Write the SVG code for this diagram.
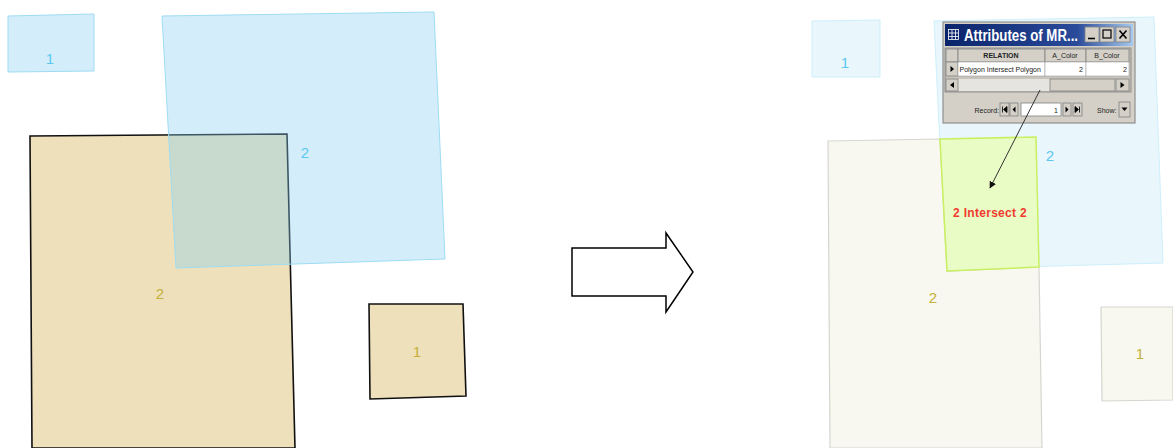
<svg xmlns="http://www.w3.org/2000/svg" width="1173" height="448" viewBox="0 0 1173 448">
<defs>
<linearGradient id="tb" x1="0" y1="0" x2="1" y2="0">
<stop offset="0" stop-color="#0A246A"/>
<stop offset="0.7" stop-color="#2A4A9A"/>
<stop offset="1" stop-color="#A6CAF0"/>
</linearGradient>
<marker id="ah" viewBox="0 0 10 10" refX="9" refY="5" markerWidth="7" markerHeight="7" orient="auto">
<path d="M0,0 L10,5 L0,10 z" fill="#111"/>
</marker>
<style>
.lbl{font-family:"Liberation Sans",Arial,sans-serif;font-size:15px;text-anchor:middle}
.blue{fill:#5CC8EE}
.tan{fill:#C4B03A}
.tanA{fill:#EEE0BA;stroke:#111;stroke-width:1.6}
.blueA{fill:#88D1F1;fill-opacity:0.37;stroke:#9EDCF2;stroke-width:1}
.blueB{fill:#E9F6FC;stroke:#CDEFFB;stroke-width:1}
.tanB{fill:#F8F7F0;stroke:#D6D6D0;stroke-width:1.2}
.sm{font-family:"Liberation Sans",Arial,sans-serif;font-size:7px;fill:#222}
.btn{fill:#D4D0C8;stroke:#808080;stroke-width:0.8}
.wht{fill:#FFFFFF;stroke:#A0A0A0;stroke-width:0.6}
</style>
</defs>
<rect width="1173" height="448" fill="#FFFFFF"/>

<!-- Left panel -->
<g id="left-tan-2">
<polygon class="tanA" points="30,136 287,134 295,448 32,448"/>
<text class="lbl tan" x="160" y="299">2</text>
</g>
<g id="left-tan-1">
<polygon class="tanA" points="369,304 463,304 466,396 370,399"/>
<text class="lbl tan" x="417" y="357">1</text>
</g>
<g id="left-blue-1">
<polygon class="blueA" points="8,16 94,14 94,71 8,72"/>
<text class="lbl blue" x="50" y="64">1</text>
</g>
<g id="left-blue-2">
<polygon class="blueA" points="162,16 434,12 445,259 176,268"/>
<text class="lbl blue" x="305" y="158">2</text>
</g>

<!-- Big hollow arrow -->
<g id="transform-arrow">
<polygon points="572,248 666,248 666,233 693,272 666,312 666,296 572,296" fill="#FFFFFF" stroke="#000" stroke-width="1.5" stroke-linejoin="miter"/>
</g>

<!-- Right panel -->
<g id="right-blue-1">
<polygon class="blueB" points="812,21 880,20 880,77 812,77"/>
<text class="lbl blue" x="845" y="68">1</text>
</g>
<g id="right-blue-2">
<polygon class="blueB" points="934,21 1154,17 1163,263 946,269"/>
<text class="lbl blue" x="1050" y="161">2</text>
</g>
<g id="right-tan-2">
<polygon class="tanB" points="828,141 940,139 947,271 1039,267 1042,448 830,448"/>
<text class="lbl tan" x="933" y="303">2</text>
</g>
<g id="right-tan-1">
<polygon class="tanB" points="1101,307 1173,307 1173,400 1102,401"/>
<text class="lbl tan" x="1140" y="359">1</text>
</g>
<g id="right-intersect">
<polygon points="940,139 1036,137 1039,267 947,271" fill="#E9FCC6" stroke="#C8F060" stroke-width="1.5"/>
<text x="990" y="217" font-family="'Liberation Sans',Arial,sans-serif" font-size="12" font-weight="bold" fill="#F03A2E" text-anchor="middle" letter-spacing="0.3">2 Intersect 2</text>
</g>

<!-- Attribute window -->
<g id="attributes-window">
<rect x="943" y="22" width="192" height="101" fill="#D4D0C8" stroke="#909090" stroke-width="1.2"/>
<rect x="945" y="24" width="188" height="22" fill="url(#tb)"/>
<g fill="none" stroke="#FFFFFF" stroke-width="0.8">
<rect x="948.5" y="29.5" width="10" height="10"/>
<line x1="948.5" y1="33" x2="958.5" y2="33"/>
<line x1="948.5" y1="36.5" x2="958.5" y2="36.5"/>
<line x1="952" y1="29.5" x2="952" y2="39.5"/>
<line x1="955.5" y1="29.5" x2="955.5" y2="39.5"/>
</g>
<text x="964" y="41" font-family="'Liberation Sans',Arial,sans-serif" font-size="16" font-weight="bold" fill="#FFFFFF" textLength="114" lengthAdjust="spacingAndGlyphs">Attributes of MR...</text>
<rect class="btn" x="1085" y="27" width="14" height="15"/>
<line x1="1088" y1="38.5" x2="1095" y2="38.5" stroke="#000" stroke-width="1.6"/>
<rect class="btn" x="1100" y="27" width="14" height="15"/>
<rect x="1103" y="30" width="8" height="8" fill="none" stroke="#000" stroke-width="1.2"/>
<rect class="btn" x="1116" y="27" width="14" height="15"/>
<path d="M1119.5,30.5 L1126.5,38.5 M1126.5,30.5 L1119.5,38.5" stroke="#000" stroke-width="1.6"/>

<rect x="945" y="48" width="186" height="44" fill="#C8C4BC" stroke="#808080" stroke-width="0.8"/>
<rect class="btn" x="946" y="49" width="12" height="13"/>
<rect class="btn" x="958" y="49" width="87" height="13"/>
<rect class="btn" x="1045" y="49" width="41" height="13"/>
<rect class="btn" x="1086" y="49" width="43" height="13"/>
<text class="sm" x="1001" y="58" font-size="6" font-weight="bold" text-anchor="middle">RELATION</text>
<text class="sm" x="1065" y="58" font-size="6.5" text-anchor="middle">A_Color</text>
<text class="sm" x="1107" y="58" font-size="6.5" text-anchor="middle">B_Color</text>
<rect class="btn" x="946" y="62" width="12" height="14"/>
<path d="M950.5,66 L954,69 L950.5,72 z" fill="#000"/>
<rect class="wht" x="958" y="62" width="87" height="14"/>
<rect class="wht" x="1045" y="62" width="41" height="14"/>
<rect class="wht" x="1086" y="62" width="43" height="14"/>
<text class="sm" x="959.5" y="72" font-size="6.8">Polygon Intersect Polygon</text>
<text class="sm" x="1083" y="72" text-anchor="end">2</text>
<text class="sm" x="1127" y="72" text-anchor="end">2</text>

<rect x="946" y="79" width="183" height="12" fill="#E6E4E0"/>
<rect class="btn" x="946" y="79" width="12" height="12"/>
<path d="M954,82 L950,85 L954,88 z" fill="#000"/>
<rect class="btn" x="1050" y="79" width="65" height="12"/>
<rect class="btn" x="1116" y="79" width="13" height="12"/>
<path d="M1120.5,82 L1124.5,85 L1120.5,88 z" fill="#000"/>

<text class="sm" x="999" y="113" text-anchor="end" fill="#444">Record:</text>
<rect class="btn" x="1000" y="103" width="9" height="13"/>
<path d="M1002.5,106.5 v6 M1007,106.5 L1003.5,109.5 L1007,112.5 z" stroke="#000" stroke-width="0.8" fill="#000"/>
<rect class="btn" x="1010" y="103" width="8" height="13"/>
<path d="M1015.5,106.5 L1012.5,109.5 L1015.5,112.5 z" fill="#000"/>
<rect x="1021" y="103" width="40" height="13" fill="#FFFFFF" stroke="#808080" stroke-width="0.8"/>
<text class="sm" x="1058" y="113" text-anchor="end">1</text>
<rect class="btn" x="1063" y="103" width="8" height="13"/>
<path d="M1065.5,106.5 L1068.5,109.5 L1065.5,112.5 z" fill="#000"/>
<rect class="btn" x="1073" y="103" width="9" height="13"/>
<path d="M1075,106.5 L1078.5,109.5 L1075,112.5 z M1079.5,106.5 v6" stroke="#000" stroke-width="0.8" fill="#000"/>
<text class="sm" x="1097" y="113" fill="#444">Show:</text>
<rect class="btn" x="1119" y="102" width="11" height="15"/>
<path d="M1121.5,107.5 L1127.5,107.5 L1124.5,111 z" fill="#000"/>
</g>

<!-- Connectors -->
<g id="connectors">
<line x1="1040" y1="90" x2="990" y2="188" stroke="#333" stroke-width="1" marker-end="url(#ah)"/>
</g>
</svg>
